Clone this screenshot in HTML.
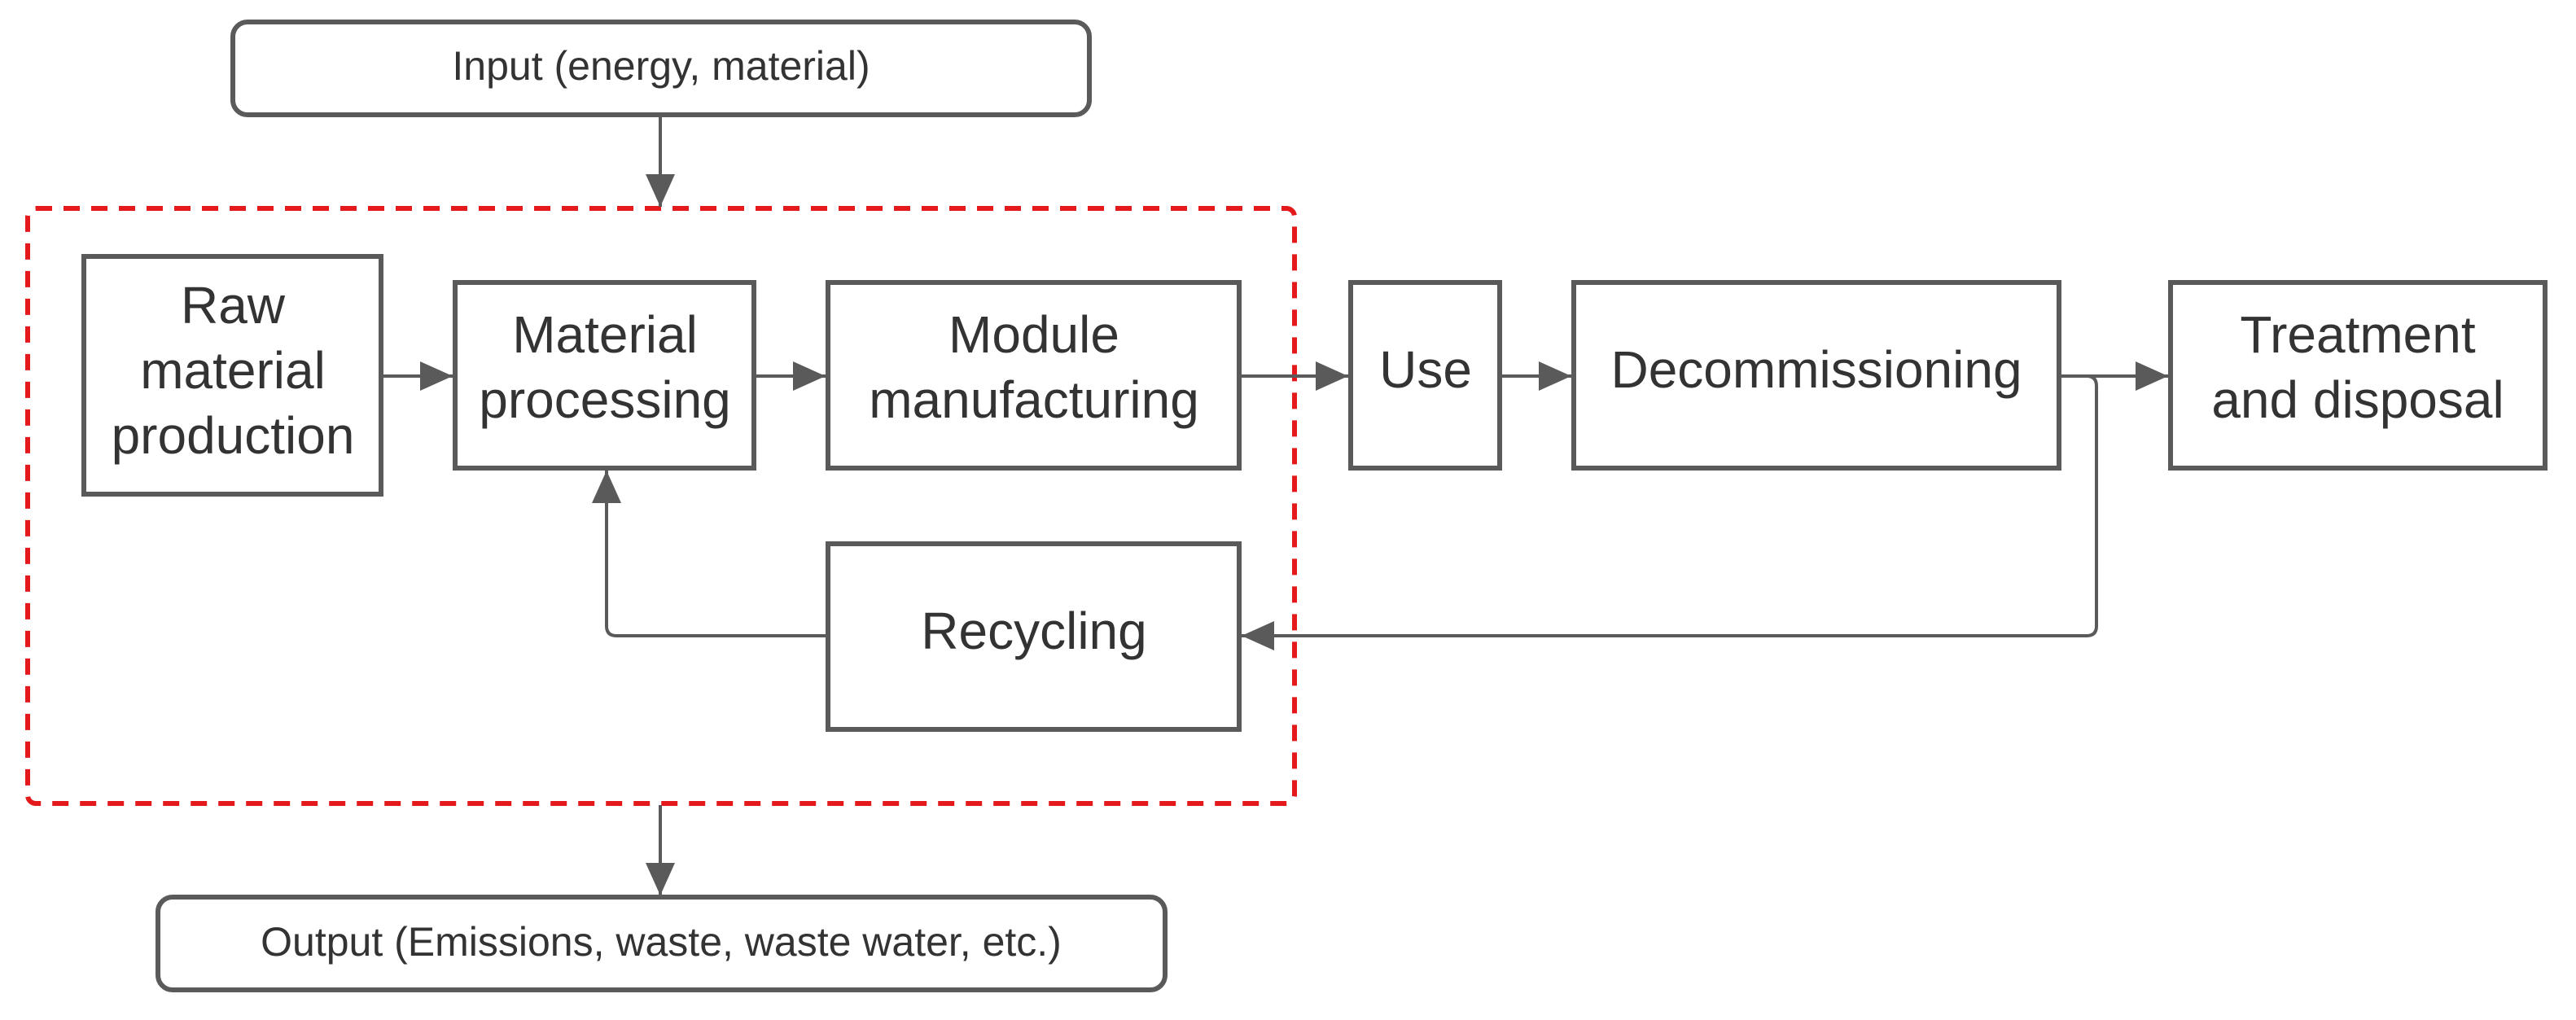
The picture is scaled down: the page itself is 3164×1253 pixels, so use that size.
<!DOCTYPE html>
<html><head><style>
html,body{margin:0;padding:0;background:#fff;}
svg text{font-family:"Liberation Sans",sans-serif;fill:#333;text-anchor:middle;}
</style></head><body>
<svg width="3164" height="1248" viewBox="0 0 3164 1248" xmlns="http://www.w3.org/2000/svg">
<defs>
<marker id="a" markerWidth="40" markerHeight="36" refX="40" refY="18" orient="auto" markerUnits="userSpaceOnUse">
<path d="M0,0 L40,18 L0,36 Z" fill="#5a5a5a"/>
</marker>
</defs>
<g fill="none" stroke="#5a5a5a" stroke-width="6">
<rect x="286" y="27" width="1052" height="114" rx="18"/>
<rect x="194" y="1102" width="1237" height="114" rx="18"/>
<rect x="103" y="315" width="365" height="292"/>
<rect x="559" y="347" width="367" height="228"/>
<rect x="1017" y="347" width="505" height="228"/>
<rect x="1659" y="347" width="183" height="228"/>
<rect x="1933" y="347" width="596" height="228"/>
<rect x="2666" y="347" width="460" height="228"/>
<rect x="1017" y="668" width="505" height="228"/>
</g>
<rect x="34" y="256" width="1556" height="731" rx="10" fill="none" stroke="#e3191b" stroke-width="6" stroke-dasharray="20,14"/>
<g fill="none" stroke="#5a5a5a" stroke-width="4">
<line x1="811" y1="141" x2="811" y2="254" marker-end="url(#a)"/>
<line x1="811" y1="989" x2="811" y2="1100" marker-end="url(#a)"/>
<line x1="468" y1="462" x2="556" y2="462" marker-end="url(#a)"/>
<line x1="926" y1="462" x2="1014" y2="462" marker-end="url(#a)"/>
<line x1="1522" y1="462" x2="1656" y2="462" marker-end="url(#a)"/>
<line x1="1842" y1="462" x2="1930" y2="462" marker-end="url(#a)"/>
<line x1="2529" y1="462" x2="2663" y2="462" marker-end="url(#a)"/>
<path d="M2529,462 H2563 Q2575,462 2575,474 V769 Q2575,781 2563,781 H1525" marker-end="url(#a)"/>
<path d="M1017,781 H757 Q745,781 745,769 V578" marker-end="url(#a)"/>
</g>
<text x="812" y="98" font-size="50">Input (energy, material)</text>
<text x="812" y="1174" font-size="50">Output (Emissions, waste, waste water, etc.)</text>
<text x="286" y="397" font-size="64">Raw</text>
<text x="286" y="477" font-size="64">material</text>
<text x="286" y="557" font-size="64">production</text>
<text x="743" y="433" font-size="64">Material</text>
<text x="743" y="513" font-size="64">processing</text>
<text x="1270" y="433" font-size="64">Module</text>
<text x="1270" y="513" font-size="64">manufacturing</text>
<text x="1751" y="476" font-size="64">Use</text>
<text x="2231" y="476" font-size="64">Decommissioning</text>
<text x="2896" y="433" font-size="64">Treatment</text>
<text x="2896" y="513" font-size="64">and disposal</text>
<text x="1270" y="797" font-size="64">Recycling</text>
</svg>
</body></html>
